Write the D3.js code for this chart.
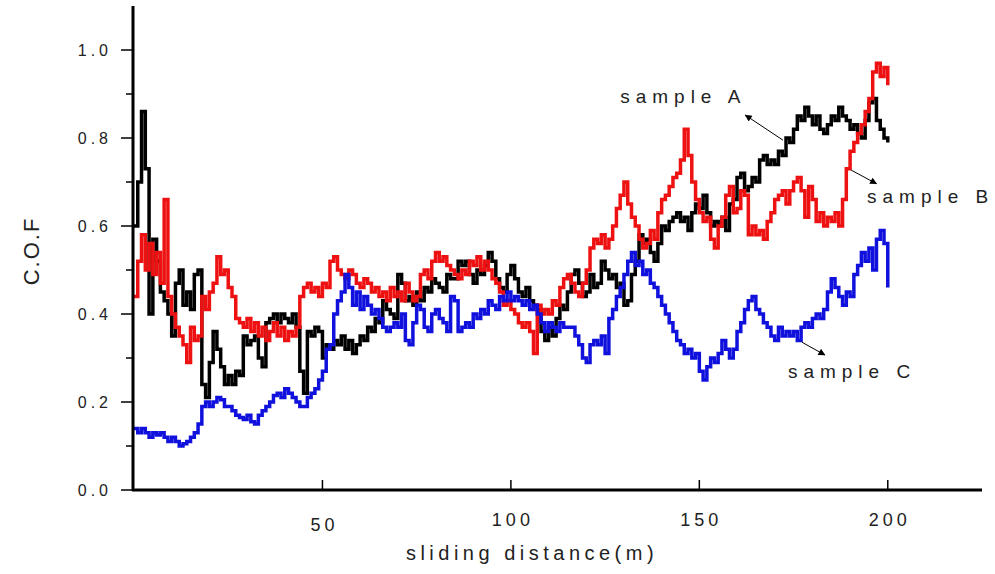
<!DOCTYPE html>
<html>
<head>
<meta charset="utf-8">
<script src="https://cdn.jsdelivr.net/npm/d3@7"></script>
<style>
  body { margin: 0; background: #fff; }
  svg text { font-family: "Liberation Sans", Arial, sans-serif; fill: #222; }
</style>
</head>
<body>
<div id="chart"></div>
<script>
// sliding distance sampled every 1 m, 0..200
var distance = d3.range(0, 201);

var cofA = [0.60,0.70,0.86,0.73,0.40,0.57,0.52,0.45,0.43,0.40,
  0.35,0.47,0.50,0.42,0.45,0.41,0.49,0.50,0.24,0.21,
  0.29,0.36,0.32,0.28,0.24,0.26,0.24,0.27,0.26,0.35,
  0.33,0.34,0.35,0.30,0.28,0.38,0.39,0.40,0.38,0.40,
  0.39,0.38,0.40,0.37,0.27,0.22,0.36,0.35,0.37,0.36,
  0.30,0.33,0.32,0.34,0.33,0.35,0.32,0.34,0.31,0.33,
  0.35,0.34,0.37,0.36,0.39,0.38,0.43,0.41,0.40,0.39,
  0.49,0.47,0.43,0.44,0.42,0.45,0.43,0.46,0.45,0.48,
  0.47,0.46,0.45,0.49,0.48,0.48,0.52,0.51,0.52,0.49,
  0.47,0.50,0.49,0.51,0.54,0.52,0.48,0.46,0.45,0.49,
  0.51,0.48,0.45,0.44,0.46,0.43,0.42,0.41,0.36,0.34,
  0.37,0.35,0.39,0.42,0.41,0.45,0.49,0.50,0.47,0.44,
  0.45,0.49,0.46,0.47,0.52,0.50,0.48,0.49,0.46,0.47,
  0.42,0.43,0.49,0.52,0.58,0.56,0.57,0.54,0.52,0.56,
  0.60,0.59,0.61,0.62,0.63,0.61,0.62,0.59,0.63,0.65,
  0.64,0.67,0.63,0.60,0.61,0.60,0.62,0.59,0.65,0.66,
  0.71,0.72,0.68,0.69,0.71,0.70,0.75,0.76,0.74,0.75,
  0.74,0.77,0.76,0.80,0.79,0.82,0.85,0.84,0.87,0.85,
  0.83,0.85,0.82,0.81,0.83,0.85,0.84,0.87,0.85,0.84,
  0.82,0.83,0.81,0.80,0.84,0.88,0.89,0.84,0.82,0.80,
  0.79];

var cofB = [0.44,0.52,0.58,0.50,0.56,0.49,0.54,0.47,0.66,0.44,
  0.40,0.37,0.35,0.33,0.29,0.37,0.34,0.35,0.44,0.41,
  0.45,0.47,0.53,0.49,0.50,0.46,0.44,0.39,0.38,0.37,
  0.39,0.36,0.38,0.35,0.37,0.34,0.36,0.38,0.35,0.37,
  0.34,0.36,0.35,0.37,0.44,0.46,0.47,0.45,0.46,0.44,
  0.47,0.46,0.52,0.53,0.50,0.49,0.48,0.50,0.49,0.47,
  0.46,0.48,0.47,0.45,0.46,0.44,0.45,0.43,0.46,0.44,
  0.45,0.43,0.47,0.45,0.43,0.44,0.49,0.50,0.48,0.52,
  0.54,0.52,0.53,0.51,0.50,0.49,0.48,0.50,0.49,0.52,
  0.51,0.53,0.50,0.52,0.50,0.48,0.47,0.45,0.42,0.43,
  0.41,0.40,0.38,0.37,0.38,0.36,0.31,0.42,0.40,0.41,
  0.40,0.43,0.42,0.46,0.48,0.49,0.47,0.45,0.44,0.47,
  0.50,0.55,0.57,0.56,0.58,0.55,0.57,0.60,0.64,0.67,
  0.70,0.65,0.62,0.60,0.57,0.55,0.56,0.59,0.57,0.63,
  0.66,0.67,0.69,0.71,0.72,0.75,0.82,0.76,0.70,0.66,
  0.63,0.61,0.62,0.57,0.55,0.60,0.62,0.67,0.69,0.63,
  0.64,0.68,0.67,0.58,0.60,0.58,0.59,0.57,0.61,0.63,
  0.66,0.67,0.68,0.65,0.68,0.70,0.71,0.68,0.62,0.69,
  0.66,0.61,0.63,0.60,0.62,0.61,0.63,0.60,0.66,0.73,
  0.77,0.79,0.81,0.83,0.86,0.89,0.95,0.97,0.94,0.96,
  0.92];

var cofC = [0.14,0.13,0.14,0.13,0.12,0.13,0.125,0.13,0.12,0.11,
  0.12,0.11,0.10,0.105,0.11,0.12,0.13,0.15,0.19,0.20,
  0.19,0.20,0.21,0.205,0.19,0.19,0.18,0.17,0.165,0.16,
  0.17,0.155,0.15,0.17,0.18,0.19,0.20,0.215,0.22,0.21,
  0.23,0.22,0.21,0.20,0.19,0.19,0.21,0.22,0.23,0.25,
  0.27,0.32,0.33,0.40,0.43,0.45,0.49,0.46,0.42,0.45,
  0.41,0.44,0.42,0.40,0.41,0.39,0.37,0.36,0.37,0.38,
  0.37,0.40,0.34,0.33,0.38,0.42,0.41,0.37,0.36,0.40,
  0.41,0.39,0.38,0.36,0.44,0.43,0.36,0.37,0.38,0.37,
  0.40,0.39,0.41,0.40,0.43,0.42,0.41,0.44,0.43,0.45,
  0.43,0.44,0.43,0.42,0.43,0.41,0.42,0.40,0.38,0.36,
  0.38,0.37,0.36,0.38,0.37,0.37,0.37,0.35,0.33,0.30,
  0.29,0.33,0.34,0.33,0.35,0.31,0.39,0.41,0.44,0.46,
  0.49,0.52,0.54,0.51,0.52,0.49,0.50,0.47,0.46,0.44,
  0.42,0.40,0.38,0.36,0.34,0.33,0.31,0.32,0.30,0.31,
  0.27,0.25,0.28,0.30,0.29,0.31,0.34,0.32,0.30,0.32,
  0.36,0.38,0.41,0.43,0.44,0.41,0.40,0.38,0.37,0.35,
  0.34,0.37,0.35,0.36,0.35,0.36,0.34,0.37,0.38,0.37,
  0.39,0.40,0.39,0.41,0.45,0.48,0.46,0.44,0.42,0.45,
  0.44,0.49,0.51,0.54,0.52,0.55,0.50,0.57,0.59,0.56,
  0.46];

var seriesNames = ["sample A", "sample B", "sample C"];
var seriesColors = ["#000000", "#ee1111", "#1111dd"];
var xTicks = [50, 100, 150, 200];
var yTicks = [0.0, 0.2, 0.4, 0.6, 0.8, 1.0];
var yMinorTicks = [0.1, 0.3, 0.5, 0.7, 0.9];

// label position in data units + arrow (from line, to label)
var labelAt = [
  {text: "sample A", x: 129, y: 0.895, from: [172.2, 0.795], to: [162.2, 0.852]},
  {text: "sample B", x: 194.5, y: 0.667, from: [190.3, 0.727], to: [197.0, 0.696]},
  {text: "sample C", x: 173.5, y: 0.27, from: [177.2, 0.336], to: [183.3, 0.307]}
];

var width = 995, height = 574;

var svg = d3.select("#chart").append("svg")
    .attr("width", width)
    .attr("height", height);

var x = d3.scaleLinear().domain([0, 225]).range([134, 982]);
var y = d3.scaleLinear().domain([0, 1.1]).range([490, 6]);

// lines
var data = [cofA, cofB, cofC];
var line = d3.line()
    .x(function(d, i) { return x(distance[i]); })
    .y(function(d) { return y(d); })
    .curve(d3.curveStepAfter);

svg.selectAll(".series")
    .data(data)
    .enter()
    .append("path")
    .attr("class", "series")
    .attr("fill", "none")
    .attr("stroke", function(d, i) { return seriesColors[i]; })
    .attr("stroke-width", 3.5)
    .attr("d", line);

// y axis
svg.append("line")
    .attr("x1", 133).attr("x2", 133)
    .attr("y1", y(1.1)).attr("y2", y(0) + 1)
    .attr("stroke", "#000").attr("stroke-width", 3);

svg.selectAll(".ytick")
    .data(yTicks)
    .enter().append("line")
    .attr("x1", 121).attr("x2", 133)
    .attr("y1", function(d) { return y(d); })
    .attr("y2", function(d) { return y(d); })
    .attr("stroke", "#000").attr("stroke-width", 1.5);

svg.selectAll(".yminor")
    .data(yMinorTicks)
    .enter().append("line")
    .attr("x1", 126).attr("x2", 133)
    .attr("y1", function(d) { return y(d); })
    .attr("y2", function(d) { return y(d); })
    .attr("stroke", "#000").attr("stroke-width", 1.5);

svg.selectAll(".ylab")
    .data(yTicks)
    .enter().append("text")
    .attr("x", 112)
    .attr("y", function(d) { return y(d); })
    .attr("dy", "0.35em")
    .attr("text-anchor", "end")
    .style("font-size", "16px")
    .style("letter-spacing", "4px")
    .text(function(d) { return d3.format(".1f")(d); });

// x axis
svg.append("line")
    .attr("x1", 132).attr("x2", x(225))
    .attr("y1", 490).attr("y2", 490)
    .attr("stroke", "#000").attr("stroke-width", 3);

svg.selectAll(".xtick")
    .data(xTicks)
    .enter().append("line")
    .attr("x1", function(d) { return x(d); })
    .attr("x2", function(d) { return x(d); })
    .attr("y1", 480).attr("y2", 490)
    .attr("stroke", "#000").attr("stroke-width", 1.5);

svg.selectAll(".xlab")
    .data(xTicks)
    .enter().append("text")
    .attr("x", function(d) { return x(d) + 2; })
    .attr("y", function(d, i) { return i == 0 ? 531 : 526; })
    .attr("text-anchor", "middle")
    .style("font-size", "18px")
    .style("letter-spacing", "4px")
    .text(function(d) { return d; });

// axis titles
svg.append("text")
    .attr("x", 532).attr("y", 560)
    .attr("text-anchor", "middle")
    .style("font-size", "20px")
    .style("letter-spacing", "4.5px")
    .text("sliding distance(m)");

svg.append("text")
    .attr("transform", "translate(39,251) rotate(-90)")
    .attr("text-anchor", "middle")
    .style("font-size", "22px")
    .style("letter-spacing", "2px")
    .text("C.O.F");

// annotation arrows
svg.append("defs").append("marker")
    .attr("id", "head")
    .attr("viewBox", "0 0 10 10")
    .attr("refX", 9).attr("refY", 5)
    .attr("markerWidth", 9).attr("markerHeight", 7)
    .attr("markerUnits", "userSpaceOnUse")
    .attr("orient", "auto")
    .append("path")
    .attr("d", "M0,0 L10,5 L0,10 z")
    .attr("fill", "#000");

svg.selectAll(".arrow")
    .data(labelAt)
    .enter().append("line")
    .attr("x1", function(d) { return x(d.from[0]); })
    .attr("y1", function(d) { return y(d.from[1]); })
    .attr("x2", function(d) { return x(d.to[0]); })
    .attr("y2", function(d) { return y(d.to[1]); })
    .attr("stroke", "#000").attr("stroke-width", 1)
    .attr("marker-end", "url(#head)");

svg.selectAll(".note")
    .data(labelAt)
    .enter().append("text")
    .attr("x", function(d) { return x(d.x); })
    .attr("y", function(d) { return y(d.y); })
    .attr("dy", "0.35em")
    .style("font-size", "19px")
    .style("letter-spacing", "6px")
    .text(function(d) { return d.text; });
</script>
</body>
</html>
